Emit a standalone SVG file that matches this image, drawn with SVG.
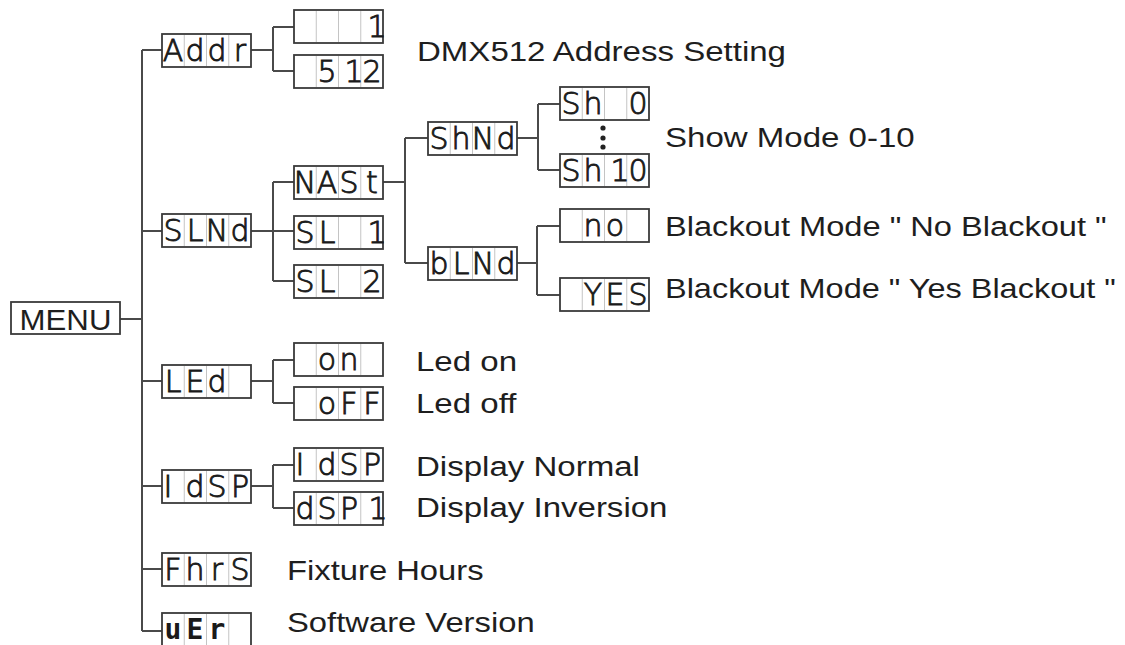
<svg xmlns="http://www.w3.org/2000/svg" xmlns:xlink="http://www.w3.org/1999/xlink" width="1125" height="645" viewBox="0 0 1125 645">
<style>
.bg{fill:#ffffff}
.conn{fill:none;stroke:#4a4a4a;stroke-width:2}
.frame{fill:#ffffff;stroke:#3a3a3a;stroke-width:1.8}
.cell{stroke:#c4c4c4;stroke-width:1}
.seg{font-family:"DejaVu Sans","DejaVu Sans Mono",sans-serif;font-weight:200;font-size:30px;fill:#1a1a1a;stroke:#1a1a1a;stroke-width:0.9;text-anchor:middle}
.segb{font-family:"DejaVu Sans Mono",monospace;font-weight:bold;font-size:28px;stroke:none}
.lbl{font-family:"Liberation Sans",Arial,sans-serif;font-size:28px;fill:#1e1e1e}
.menu{font-family:"Liberation Sans",Arial,sans-serif;font-size:30px;fill:#1e1e1e;text-anchor:middle}
.dot{fill:#222}
</style>
<defs>
<g id="disp">
<rect class="frame" x="0" y="0" width="89" height="33"/>
<line class="cell" x1="22.25" y1="1" x2="22.25" y2="32"/>
<line class="cell" x1="44.5" y1="1" x2="44.5" y2="32"/>
<line class="cell" x1="66.75" y1="1" x2="66.75" y2="32"/>
</g>
</defs>
<rect class="bg" x="0" y="0" width="1125" height="645"/>

<g id="connectors">
<path class="conn" d="M142 50 V631"/>
<path class="conn" d="M120 319 H142"/>
<path class="conn" d="M142 50 H162 M142 231 H162 M142 381 H162 M142 486 H162 M142 569 H162 M142 631 H162"/>
<path class="conn" d="M251 50 H273 M273 27 V71 M273 27 H294 M273 71 H294"/>
<path class="conn" d="M251 231 H294 M273 182 V281 M273 182 H294 M273 281 H294"/>
<path class="conn" d="M383 182 H405 M405 138 V263 M405 138 H428 M405 263 H428"/>
<path class="conn" d="M517 138 H538 M538 104 V170 M538 104 H560 M538 170 H560"/>
<path class="conn" d="M517 263 H537 M537 226 V295 M537 226 H560 M537 295 H560"/>
<path class="conn" d="M251 381 H273 M273 360 V403 M273 360 H294 M273 403 H294"/>
<path class="conn" d="M251 486 H273 M273 465 V508 M273 465 H294 M273 508 H294"/>
</g>

<g id="menu">
<rect class="frame" x="11" y="302" width="109" height="32"/>
<text class="menu" transform="translate(65.5,330) scale(1.04,1)">MENU</text>
</g>

<g id="addr">
<use xlink:href="#disp" x="162" y="34"/>
<text class="seg" x="173 195 217 240" y="61">Addr</text>
</g>
<g id="addr-1">
<use xlink:href="#disp" x="294" y="10"/>
<text class="seg" x="377" y="37">1</text>
</g>
<g id="addr-512">
<use xlink:href="#disp" x="294" y="55"/>
<text class="seg" x="327 354 372" y="82">512</text>
</g>
<text class="lbl" transform="translate(417,61) scale(1.18,1)">DMX512 Address Setting</text>

<g id="slnd">
<use xlink:href="#disp" x="162" y="214"/>
<text class="seg" x="173 195 217 240" y="241">SLNd</text>
</g>
<g id="nast">
<use xlink:href="#disp" x="294" y="166"/>
<text class="seg" x="305 327 349 372" y="193">NASt</text>
</g>
<g id="sl1">
<use xlink:href="#disp" x="294" y="216"/>
<text class="seg" x="305 327 349 377" y="243">SL 1</text>
</g>
<g id="sl2">
<use xlink:href="#disp" x="294" y="265"/>
<text class="seg" x="305 327 349 372" y="292">SL 2</text>
</g>
<g id="shnd">
<use xlink:href="#disp" x="428" y="122"/>
<text class="seg" x="439 461 483 506" y="149">ShNd</text>
</g>
<g id="blnd">
<use xlink:href="#disp" x="428" y="247"/>
<text class="seg" x="439 461 483 506" y="274">bLNd</text>
</g>
<g id="sh0">
<use xlink:href="#disp" x="560" y="87"/>
<text class="seg" x="571 593 615 638" y="114">Sh 0</text>
</g>
<g id="dots">
<circle class="dot" cx="603" cy="128" r="2.6"/>
<circle class="dot" cx="603" cy="138" r="2.6"/>
<circle class="dot" cx="603" cy="147" r="2.6"/>
</g>
<g id="sh10">
<use xlink:href="#disp" x="560" y="154"/>
<text class="seg" x="571 593 608 620 638" y="181">Sh 10</text>
</g>
<text class="lbl" transform="translate(665,147) scale(1.18,1)">Show Mode 0-10</text>
<g id="no">
<use xlink:href="#disp" x="560" y="209"/>
<text class="seg" x="593 615" y="236">no</text>
</g>
<g id="yes">
<use xlink:href="#disp" x="560" y="278"/>
<text class="seg" x="593 615 638" y="305">YES</text>
</g>
<text class="lbl" transform="translate(665,236) scale(1.165,1)">Blackout Mode " No Blackout "</text>
<text class="lbl" transform="translate(665,298) scale(1.16,1)">Blackout Mode " Yes Blackout "</text>

<g id="led">
<use xlink:href="#disp" x="162" y="365"/>
<text class="seg" x="173 195 217" y="392">LEd</text>
</g>
<g id="on">
<use xlink:href="#disp" x="294" y="343"/>
<text class="seg" x="327 349" y="370">on</text>
</g>
<g id="off">
<use xlink:href="#disp" x="294" y="387"/>
<text class="seg" x="327 349 372" y="414">oFF</text>
</g>
<text class="lbl" transform="translate(416,371) scale(1.18,1)">Led on</text>
<text class="lbl" transform="translate(416,413) scale(1.18,1)">Led off</text>

<g id="idsp">
<use xlink:href="#disp" x="162" y="470"/>
<text class="seg" x="168 195 217 240" y="497">IdSP</text>
</g>
<g id="idsp-normal">
<use xlink:href="#disp" x="294" y="448"/>
<text class="seg" x="300 327 349 372" y="475">IdSP</text>
</g>
<g id="dsp1">
<use xlink:href="#disp" x="294" y="492"/>
<text class="seg" x="305 327 349 378" y="519">dSP1</text>
</g>
<text class="lbl" transform="translate(416,476) scale(1.18,1)">Display Normal</text>
<text class="lbl" transform="translate(416,517) scale(1.18,1)">Display Inversion</text>

<g id="fhrs">
<use xlink:href="#disp" x="162" y="553"/>
<text class="seg" x="173 195 217 240" y="580">FhrS</text>
</g>
<text class="lbl" transform="translate(287,580) scale(1.17,1)">Fixture Hours</text>

<g id="uer">
<use xlink:href="#disp" x="162" y="613"/>
<text class="seg segb" x="173 195 217" y="639">uEr</text>
</g>
<text class="lbl" transform="translate(287,632) scale(1.17,1)">Software Version</text>
</svg>
